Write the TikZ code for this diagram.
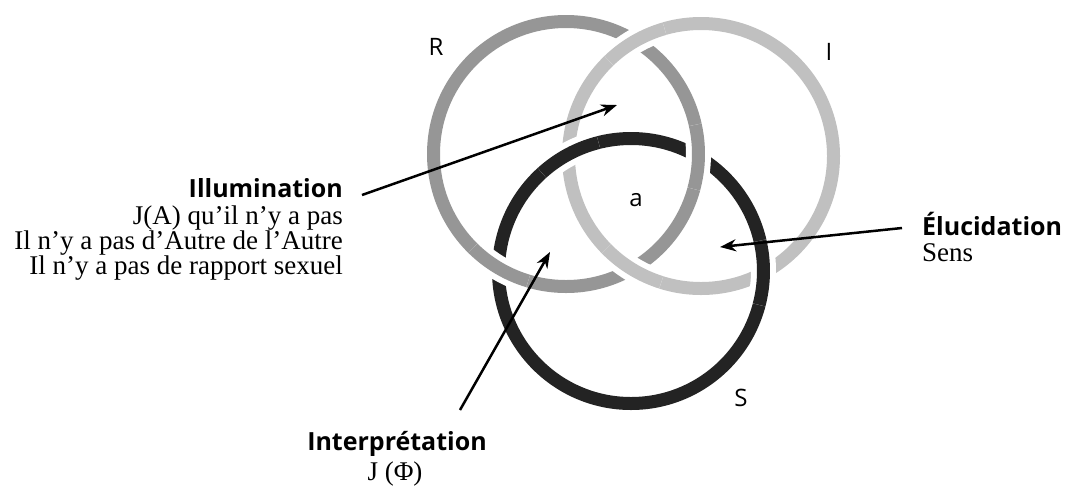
\documentclass[tikz,border=0pt]{standalone}
\usepackage{fontspec}
\setmainfont{Liberation Serif}
\newfontfamily\headfont{Open Sans}
\definecolor{RingRGray}{RGB}{150,150,150}
\definecolor{RingIGray}{RGB}{192,192,192}
\definecolor{RingSBlack}{RGB}{35,35,35}
\usetikzlibrary{positioning, arrows.meta, calc}

\begin{document}
\begin{tikzpicture}[
  x=1pt, y=-1pt,
  ring/.style={line width=13pt},
  halo/.style={line width=25pt, white},
  ringlbl/.style={font=\headfont\fontsize{24}{24}\selectfont, inner sep=0pt},
  head/.style={font=\headfont\bfseries\fontsize{25}{26}\selectfont, inner sep=0pt},
  body/.style={font=\fontsize{27}{25}\selectfont, inner sep=0pt},
  arrow/.style={-{Stealth[length=16pt, width=12pt]}, line width=2.5pt}
]
\useasboundingbox (0,0) rectangle (1073,488);

% Ring centres
\coordinate (R) at (566,154);
\coordinate (I) at (701,156);
\coordinate (S) at (631,271);

% Full rings
\draw[ring, RingRGray] (R) circle[radius=132.5];
\draw[ring, RingIGray] (I) circle[radius=132.5];
\draw[ring, RingSBlack] (S) circle[radius=132.5];

% Crossings: I over R, R over S, S over I
\draw[halo] ($(I)+(226:132.5)$) arc[start angle=226, end angle=254, radius=132.5];
\draw[ring, RingIGray] ($(I)+(226:132.5)$) arc[start angle=226, end angle=254, radius=132.5];
\draw[halo] ($(I)+(107.5:132.5)$) arc[start angle=107.5, end angle=135.5, radius=132.5];
\draw[ring, RingIGray] ($(I)+(107.5:132.5)$) arc[start angle=107.5, end angle=135.5, radius=132.5];
\draw[halo] ($(R)+(106.6:132.5)$) arc[start angle=106.6, end angle=134.6, radius=132.5];
\draw[ring, RingRGray] ($(R)+(106.6:132.5)$) arc[start angle=106.6, end angle=134.6, radius=132.5];
\draw[halo] ($(R)+(-12.7:132.5)$) arc[start angle=-12.7, end angle=15.3, radius=132.5];
\draw[ring, RingRGray] ($(R)+(-12.7:132.5)$) arc[start angle=-12.7, end angle=15.3, radius=132.5];
\draw[halo] ($(S)+(-13.2:132.5)$) arc[start angle=-13.2, end angle=14.8, radius=132.5];
\draw[ring, RingSBlack] ($(S)+(-13.2:132.5)$) arc[start angle=-13.2, end angle=14.8, radius=132.5];
\draw[halo] ($(S)+(227.8:132.5)$) arc[start angle=227.8, end angle=255.8, radius=132.5];
\draw[ring, RingSBlack] ($(S)+(227.8:132.5)$) arc[start angle=227.8, end angle=255.8, radius=132.5];

% Ring labels
\node[ringlbl] (lblR) at (436,47) {R};
\node[ringlbl] (lblI) at (829,52) {I};
\node[ringlbl] (lblS) at (741,398) {S};
\node[ringlbl] (lbla) at (636,200) {a};

% Illumination
\node[head, anchor=base east] (illum) at (343,197) {Illumination};
\node[body, align=right, anchor=base east] (illumtxt) at (343,274)
  {J(A) qu’il n’y a pas\\Il n’y a pas d’Autre de l’Autre\\Il n’y a pas de rapport sexuel};

% Elucidation
\node[head, anchor=base west] (eluc) at (922,235) {Élucidation};
\node[body, anchor=base west] (eluctxt) at (922,261) {Sens};

% Interpretation
\node[head, anchor=base] (interp) at (397,450) {Interprétation};
\node[body, anchor=base] (interptxt) at (395,480) {J (Φ)};

% Arrows
\coordinate (illumTip) at (617,105);
\coordinate (elucTip) at (720,247);
\coordinate (interpTip) at (550,252);
\draw[arrow] ($(illum.base east)+(19,-2)$) -- (illumTip);
\draw[arrow] ($(eluc.base west)+(-20,-7)$) -- (elucTip);
\draw[arrow] ($(interp.base)+(63,-40)$) -- (interpTip);

\end{tikzpicture}
\end{document}
